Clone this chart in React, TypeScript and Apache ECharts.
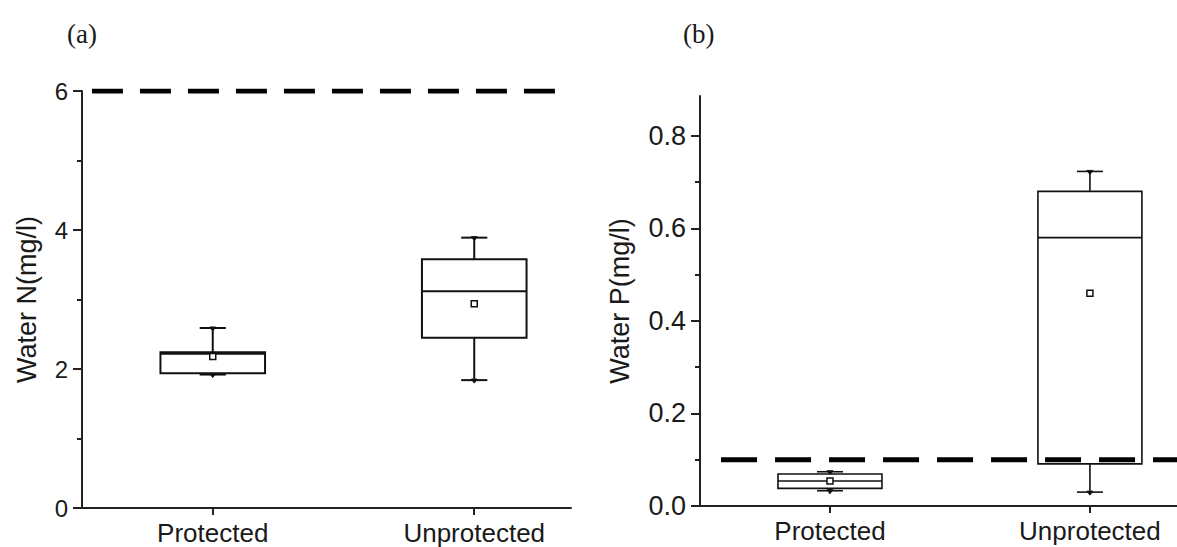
import React, { useEffect, useRef } from "react";
import * as echarts from "echarts";

// ---- data ----
const categories = ["Protected", "Unprotected"];
const categoryPos = [1, 2];
// [min, Q1, median, Q3, max, mean]
const waterN = [
  [1.92, 1.94, 2.22, 2.24, 2.59, 2.18],
  [1.84, 2.45, 3.12, 3.58, 3.89, 2.94],
];
const waterP = [
  [0.033, 0.038, 0.054, 0.069, 0.074, 0.054],
  [0.03, 0.091, 0.58, 0.68, 0.723, 0.46],
];
const thresholdN = 6;
const thresholdP = 0.1;
const ticksN = [0, 2, 4, 6];
const minorTicksN = [1, 3, 5];
const ticksP = [0, 0.2, 0.4, 0.6, 0.8];
const minorTicksP = [0.1, 0.3, 0.5, 0.7];

const TXT = "#1a1a1a";
const SANS = "Liberation Sans, Arial, sans-serif";

function boxData(rows: number[][]) {
  return rows.map((r, i) => [categoryPos[i], ...r]);
}

function makeRender(lw: number) {
  return (params: any, api: any) => {
    const x = api.value(0);
    const lo = api.coord([x, api.value(1)]);
    const q1 = api.coord([x, api.value(2)]);
    const med = api.coord([x, api.value(3)]);
    const q3 = api.coord([x, api.value(4)]);
    const hi = api.coord([x, api.value(5)]);
    const mean = api.coord([x, api.value(6)]);
    const half = api.size([0.4, 0])[0] / 2;
    const cap = api.size([0.1, 0])[0] / 2;
    const cx = lo[0];
    const st = { stroke: "#111", lineWidth: lw, fill: null };
    const line = (x1: number, y1: number, x2: number, y2: number) => ({
      type: "line",
      shape: { x1, y1, x2, y2 },
      style: st,
    });
    const tri = (y: number) => ({
      type: "polygon",
      shape: { points: [[cx - 3, y - 1], [cx + 3, y - 1], [cx, y + 3]] },
      style: { fill: "#111", stroke: "#111", lineWidth: 1 },
    });
    return {
      type: "group",
      children: [
        line(cx, q3[1], cx, hi[1]),
        line(cx, q1[1], cx, lo[1]),
        line(cx - cap, hi[1], cx + cap, hi[1]),
        line(cx - cap, lo[1], cx + cap, lo[1]),
        tri(hi[1]),
        tri(lo[1]),
        {
          type: "rect",
          shape: { x: cx - half, y: q3[1], width: half * 2, height: q1[1] - q3[1] },
          style: { stroke: "#111", lineWidth: lw, fill: "#fff" },
        },
        line(cx - half, med[1], cx + half, med[1]),
        {
          type: "rect",
          shape: { x: cx - 3, y: mean[1] - 3, width: 6, height: 6 },
          style: { stroke: "#111", lineWidth: 1.5, fill: "#fff" },
        },
      ],
    };
  };
}

function xAxis(gridIndex: number, min: number, max: number) {
  return {
    type: "value",
    gridIndex,
    min,
    max,
    axisLine: { show: true, onZero: false, lineStyle: { color: "#222", width: 2 } },
    axisTick: { show: true, customValues: categoryPos, length: 7, lineStyle: { color: "#222", width: 2 } },
    axisLabel: {
      customValues: categoryPos,
      formatter: (v: number) => categories[Math.round(v) - 1] ?? "",
      fontSize: 26,
      fontFamily: SANS,
      color: TXT,
      margin: 12,
    },
    splitLine: { show: false },
  };
}

function yAxes(gridIndex: number, max: number, major: number[], minor: number[], name: string, labelSize: number, nameGap: number, dec: number) {
  return [
    {
      type: "value",
      gridIndex,
      min: 0,
      max,
      name,
      nameLocation: "middle",
      nameGap,
      nameTextStyle: { fontSize: 27, fontFamily: SANS, color: TXT },
      axisLine: { show: true, lineStyle: { color: "#222", width: 2 } },
      axisTick: { show: true, customValues: major, length: 9, lineStyle: { color: "#222", width: 2 } },
      axisLabel: {
        customValues: major,
        formatter: (v: number) => v.toFixed(dec),
        fontSize: labelSize,
        fontFamily: SANS,
        color: TXT,
        margin: 14,
      },
      splitLine: { show: false },
    },
    {
      type: "value",
      gridIndex,
      min: 0,
      max,
      position: "left",
      axisLine: { show: false },
      axisTick: { show: true, customValues: minor, length: 5, lineStyle: { color: "#222", width: 2 } },
      axisLabel: { show: false },
      splitLine: { show: false },
    },
  ];
}

export default function App() {
  const ref = useRef<HTMLDivElement>(null);
  useEffect(() => {
    if (!ref.current) return;
    const chart = echarts.init(ref.current, null, { renderer: "svg" });
    chart.setOption({
      animation: false,
      backgroundColor: "#fff",
      title: [
        { text: "(a)", left: 62, top: 15, textStyle: { fontFamily: "Liberation Serif, serif", fontSize: 27, fontWeight: "normal", color: TXT } },
        { text: "(b)", left: 678, top: 15, textStyle: { fontFamily: "Liberation Serif, serif", fontSize: 27, fontWeight: "normal", color: TXT } },
      ],
      grid: [
        { left: 82, top: 91, width: 489, height: 417 },
        { left: 700, top: 96, width: 477, height: 410 },
      ],
      xAxis: [xAxis(0, 0.5, 2.37), xAxis(1, 0.5, 2.335)],
      yAxis: [
        ...yAxes(0, 6, ticksN, minorTicksN, "Water N(mg/l)", 24, 42, 0),
        ...yAxes(1, 0.886, ticksP, minorTicksP, "Water P(mg/l)", 27, 67, 1),
      ],
      series: [
        {
          type: "custom",
          xAxisIndex: 0,
          yAxisIndex: 0,
          data: boxData(waterN),
          renderItem: makeRender(2),
          z: 2,
        },
        {
          type: "custom",
          xAxisIndex: 1,
          yAxisIndex: 2,
          data: boxData(waterP),
          renderItem: makeRender(1.6),
          z: 2,
        },
        {
          type: "line",
          xAxisIndex: 0,
          yAxisIndex: 0,
          data: [[0.538, thresholdN], [2.351, thresholdN]],
          symbol: "none",
          lineStyle: { color: "#000", width: 5, type: [31, 17] },
          z: 5,
        },
        {
          type: "line",
          xAxisIndex: 1,
          yAxisIndex: 2,
          data: [[0.581, thresholdP], [2.335, thresholdP]],
          symbol: "none",
          lineStyle: { color: "#000", width: 5, type: [36, 18] },
          z: 5,
        },
      ],
    });
    return () => chart.dispose();
  }, []);
  return (
    <div
      ref={ref}
      style={{ position: "fixed", left: 0, top: 0, width: 1177, height: 547, background: "#fff" }}
    />
  );
}
